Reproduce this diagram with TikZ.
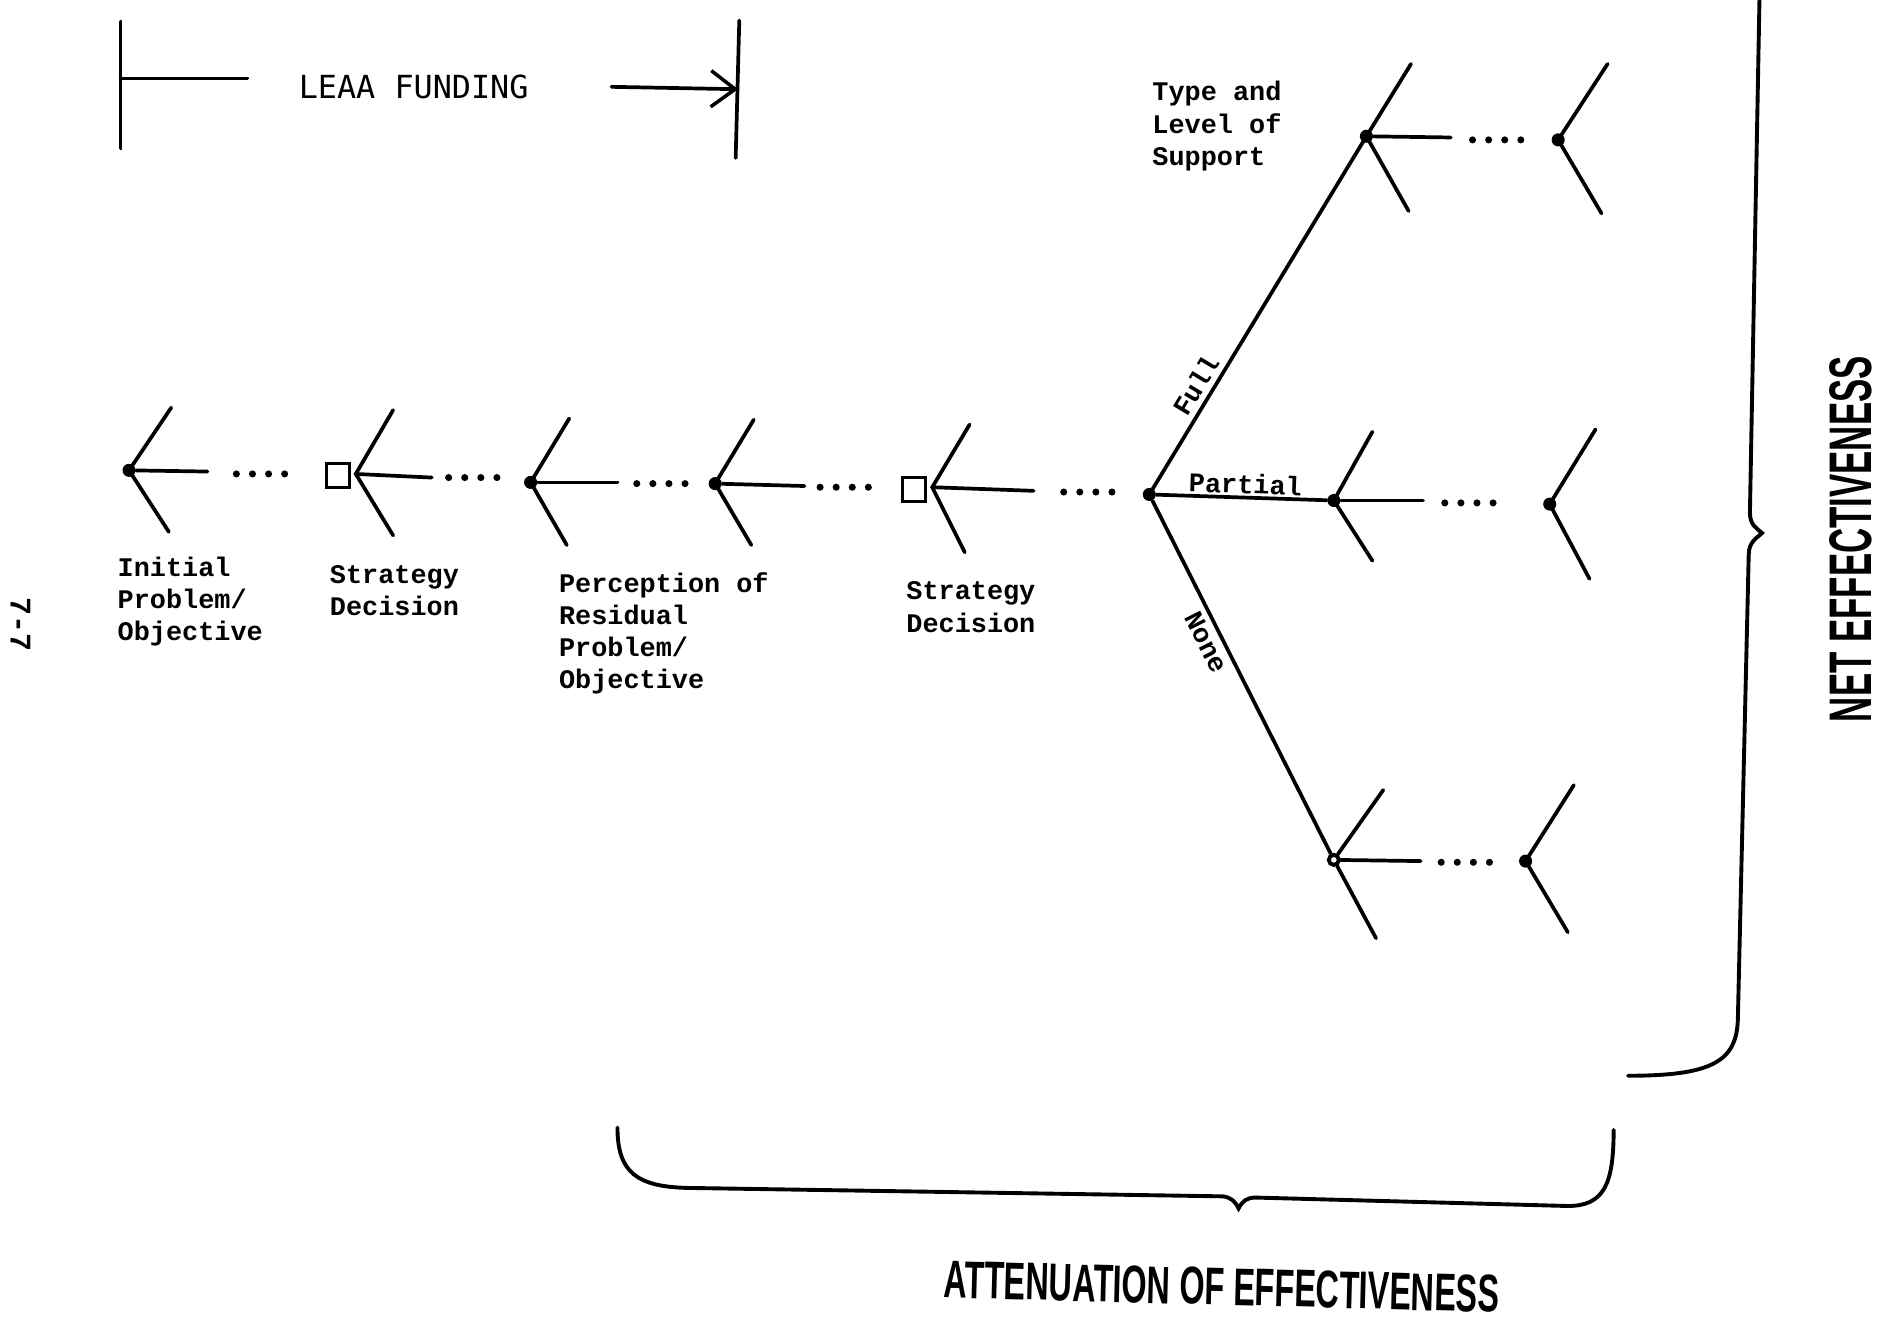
\documentclass[tikz,border=0pt]{standalone}
\usepackage{fontspec}
\setmonofont{Liberation Mono}
\newfontfamily\capsfont{DejaVu Sans Mono}
\newfontfamily\tallfont{Liberation Sans}
\usetikzlibrary{arrows.meta, positioning}

\begin{document}
\begin{tikzpicture}[x=0.012cm, y=-0.012cm,
    bone/.style={line width=1.05pt, line cap=round},
    gapdots/.style={line width=2pt, line cap=round, dash pattern=on 0pt off 0.16cm},
    jdot/.style={circle, fill, inner sep=0pt, minimum size=0.13cm},
    jring/.style={circle, draw, line width=1.1pt, fill=white, inner sep=0pt, minimum size=0.1cm},
    jbox/.style={rectangle, draw, line width=0.8pt, inner sep=0pt, minimum width=0.23cm, minimum height=0.24cm},
    lbl/.style={anchor=north west, align=left, inner sep=0pt, font=\ttfamily\bfseries\fontsize{7.6}{9.1}\selectfont},
    branchlbl/.style={sloped, inner sep=1.5pt, font=\ttfamily\bfseries\fontsize{7.6}{9.1}\selectfont},
    brace/.style={line width=1.1pt, line cap=round}]
  \useasboundingbox (0,0) rectangle (1568,1097);

  % LEAA funding span
  \coordinate (lbar-top) at (100,18);
  \coordinate (lbar-bot) at (100,123);
  \coordinate (lbar-mid) at (100,65);
  \coordinate (lline-end) at (205,65);
  \coordinate (arr-start) at (507,72);
  \coordinate (rbar-top) at (613,17);
  \coordinate (rbar-bot) at (610,131);
  \coordinate (rbar-mid) at (612,74);
  \draw[bone] (lbar-top) -- (lbar-bot);
  \draw[bone] (lbar-mid) -- (lline-end);
  \node[font=\capsfont\fontsize{9}{11}\selectfont] (funding) at (343,72) {LEAA FUNDING};
  \draw[bone, -{Straight Barb[length=2.4mm, width=3.6mm, line width=1pt]}] (arr-start) -- (rbar-mid);
  \draw[bone] (rbar-top) -- (rbar-bot);

  % Main line: junctions
  \node[jdot] (init) at (107,390) {};
  \node[jbox] (sd1) at (280,394) {};
  \coordinate (sd1-v) at (295,393);
  \node[jdot] (resid) at (440,400) {};
  \node[jdot] (resid2) at (593,401) {};
  \node[jbox] (sd2) at (758,406) {};
  \coordinate (sd2-v) at (773,404);
  \node[jdot] (fork) at (953,410) {};

  % Initial problem
  \coordinate (init-up) at (142,338);
  \coordinate (init-lo) at (140,441);
  \coordinate (init-tail) at (172,391);
  \coordinate (init-d1) at (196,393);
  \coordinate (init-d2) at (237,393);
  \draw[bone] (init-up) -- (init.center) -- (init-lo);
  \draw[bone] (init) -- (init-tail);
  \draw[gapdots] (init-d1) -- (init-d2);

  % First strategy decision
  \coordinate (sd1-up) at (326,340);
  \coordinate (sd1-lo) at (326,444);
  \coordinate (sd1-tail) at (358,396);
  \coordinate (sd1-d1) at (372,396);
  \coordinate (sd1-d2) at (413,396);
  \draw[bone] (sd1-up) -- (sd1-v) -- (sd1-lo);
  \draw[bone] (sd1-v) -- (sd1-tail);
  \draw[gapdots] (sd1-d1) -- (sd1-d2);

  % Residual problem
  \coordinate (resid-up) at (472,347);
  \coordinate (resid-lo) at (470,452);
  \coordinate (resid-tail) at (512,400);
  \coordinate (resid-d1) at (528,401);
  \coordinate (resid-d2) at (569,401);
  \draw[bone] (resid-up) -- (resid.center) -- (resid-lo);
  \draw[bone] (resid) -- (resid-tail);
  \draw[gapdots] (resid-d1) -- (resid-d2);

  \coordinate (resid2-up) at (625,348);
  \coordinate (resid2-lo) at (623,452);
  \coordinate (resid2-tail) at (667,403);
  \coordinate (resid2-d1) at (680,404);
  \coordinate (resid2-d2) at (721,404);
  \draw[bone] (resid2-up) -- (resid2.center) -- (resid2-lo);
  \draw[bone] (resid2) -- (resid2-tail);
  \draw[gapdots] (resid2-d1) -- (resid2-d2);

  % Second strategy decision
  \coordinate (sd2-up) at (804,352);
  \coordinate (sd2-lo) at (800,458);
  \coordinate (sd2-tail) at (857,407);
  \coordinate (sd2-d1) at (882,408);
  \coordinate (sd2-d2) at (923,408);
  \draw[bone] (sd2-up) -- (sd2-v) -- (sd2-lo);
  \draw[bone] (sd2-v) -- (sd2-tail);
  \draw[gapdots] (sd2-d1) -- (sd2-d2);

  % Support branches
  \node[jdot] (sup1) at (1133,113) {};
  \node[jdot] (sup2) at (1292,116) {};
  \node[jdot] (par1) at (1106,415) {};
  \node[jdot] (par2) at (1285,418) {};
  \node[jring] (non1) at (1106,713) {};
  \node[jdot] (non2) at (1265,714) {};

  \coordinate (sup1-up) at (1170,53);
  \draw[bone] (fork.center) -- node[branchlbl, pos=0.28, above] {Full} (sup1.center) -- (sup1-up);
  \draw[bone] (fork) -- node[branchlbl, pos=0.52, above, inner sep=0.5pt] {Partial} (par1);
  \draw[bone] (fork) -- node[branchlbl, pos=0.38, below] {None} (non1);

  % Full
  \coordinate (sup1-lo) at (1168,175);
  \coordinate (sup1-tail) at (1203,114);
  \coordinate (sup1-d1) at (1221,116);
  \coordinate (sup1-d2) at (1262,116);
  \coordinate (sup2-up) at (1333,53);
  \coordinate (sup2-lo) at (1328,177);
  \draw[bone] (sup1.center) -- (sup1-lo);
  \draw[bone] (sup1) -- (sup1-tail);
  \draw[gapdots] (sup1-d1) -- (sup1-d2);
  \draw[bone] (sup2-up) -- (sup2.center) -- (sup2-lo);

  % Partial
  \coordinate (par1-up) at (1138,358);
  \coordinate (par1-lo) at (1138,465);
  \coordinate (par1-tail) at (1180,415);
  \coordinate (par1-d1) at (1198,417);
  \coordinate (par1-d2) at (1239,417);
  \coordinate (par2-up) at (1323,356);
  \coordinate (par2-lo) at (1318,480);
  \draw[bone] (par1-up) -- (par1.center) -- (par1-lo);
  \draw[bone] (par1) -- (par1-tail);
  \draw[gapdots] (par1-d1) -- (par1-d2);
  \draw[bone] (par2-up) -- (par2.center) -- (par2-lo);

  % None
  \coordinate (non1-up) at (1147,655);
  \coordinate (non1-lo) at (1141,778);
  \coordinate (non1-tail) at (1178,714);
  \coordinate (non1-d1) at (1195,715);
  \coordinate (non1-d2) at (1236,715);
  \coordinate (non2-up) at (1305,651);
  \coordinate (non2-lo) at (1300,773);
  \draw[bone] (non1-up) -- (non1) -- (non1-lo);
  \draw[bone] (non1) -- (non1-tail);
  \draw[gapdots] (non1-d1) -- (non1-d2);
  \draw[bone] (non2-up) -- (non2.center) -- (non2-lo);

  % Labels
  \node[lbl] (init-lbl) at (97,461) {Initial\\Problem/\\Objective};
  \node[lbl] (sd1-lbl) at (273,468) {Strategy\\Decision};
  \node[lbl] (resid-lbl) at (463,474) {Perception of\\Residual\\Problem/\\Objective};
  \node[lbl] (sd2-lbl) at (751,482) {Strategy\\Decision};
  \node[lbl] (sup-lbl) at (955,67) {Type and\\Level of\\Support};

  % Braces
  \draw[brace] (1459,-5) -- (1451,425) .. controls (1451,436) and (1457,438) .. (1461,442)
    .. controls (1457,446) and (1450,449) .. (1450,460) -- (1441,845)
    .. controls (1440,880) and (1420,892) .. (1350,892);
  \node[rotate=90, font=\tallfont\bfseries\fontsize{17}{20}\selectfont] (net) at (1535,447) {\scalebox{0.58}[1]{NET EFFECTIVENESS}};

  \draw[brace] (512,935) .. controls (512,972) and (528,984) .. (570,985) -- (1014,992)
    .. controls (1021,993) and (1024,996) .. (1027,1002)
    .. controls (1030,996) and (1034,993) .. (1041,993) -- (1300,1000)
    .. controls (1330,1000) and (1338,982) .. (1338,937);
  \node[rotate=-1.5, font=\tallfont\bfseries\fontsize{15}{18}\selectfont] (atten) at (1013,1067) {\scalebox{0.61}[1]{ATTENUATION OF EFFECTIVENESS}};

  % page number
  \node[rotate=-90, font=\ttfamily\bfseries\fontsize{8.5}{10}\selectfont] (pageno) at (17,518) {7-7};
\end{tikzpicture}
\end{document}
